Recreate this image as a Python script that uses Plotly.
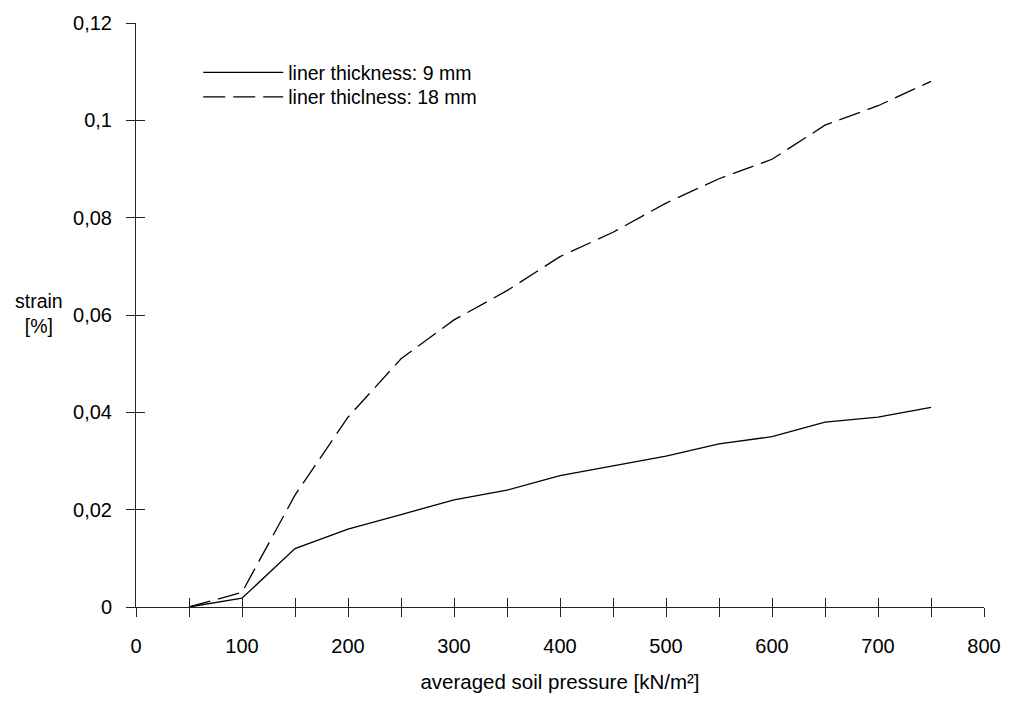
import plotly.graph_objects as go

pressure = [50, 100, 150, 200, 250, 300, 350, 400, 450, 500, 550, 600, 650, 700, 750]
strain_9mm = [0.0, 0.0018, 0.012, 0.016, 0.019, 0.022, 0.024, 0.027, 0.029, 0.031, 0.0335, 0.035, 0.038, 0.039, 0.041]
strain_18mm = [0.0, 0.003, 0.023, 0.039, 0.051, 0.059, 0.065, 0.072, 0.077, 0.083, 0.088, 0.092, 0.099, 0.103, 0.108]
name_9 = "liner thickness: 9 mm"
name_18 = "liner thiclness: 18 mm"

FONT = "Liberation Sans, Arial, sans-serif"
AX = "#222222"

fig = go.Figure()
fig.add_trace(go.Scatter(x=pressure, y=strain_9mm, mode="lines", name=name_9,
                         line=dict(color="black", width=1.3), legend="legend"))
fig.add_trace(go.Scatter(x=pressure, y=strain_18mm, mode="lines", name=name_18,
                         line=dict(color="black", width=1.3, dash="22px,8px"),
                         legend="legend2"))

leg_common = dict(xanchor="left", yanchor="middle", bgcolor="rgba(0,0,0,0)",
                  font=dict(size=19.5), itemwidth=80, borderwidth=0)

fig.update_layout(
    width=1013, height=701,
    margin=dict(l=136, r=19, t=19, b=87),
    paper_bgcolor="white", plot_bgcolor="white",
    separators=",.",
    font=dict(family=FONT, size=20, color="black"),
    showlegend=True,
    legend=dict(x=0.0734, y=0.915, **leg_common),
    legend2=dict(x=0.0734, y=0.873, **leg_common),
    xaxis=dict(range=[0, 800], dtick=100, ticks="outside", ticklen=9, tickwidth=1,
               tickcolor=AX, showline=True, linecolor=AX, linewidth=1,
               showgrid=False, zeroline=False,
               minor=dict(dtick=50, ticks="outside", ticklen=9, tickcolor=AX, showgrid=False),
               title=dict(text="averaged soil pressure [kN/m²]", standoff=18,
                          font=dict(size=20.5)),
               ticklabelstandoff=12),
    xaxis2=dict(range=[0, 800], dtick=50, ticks="inside", ticklen=9, tickcolor=AX,
                overlaying="x", anchor="y", side="bottom", showticklabels=False,
                showgrid=False, zeroline=False, showline=False),
    yaxis=dict(range=[0, 0.12], dtick=0.02, ticks="outside", ticklen=9, tickwidth=1,
               tickcolor=AX, showline=True, linecolor=AX, linewidth=1,
               showgrid=False, zeroline=False, ticklabelstandoff=10),
    yaxis2=dict(range=[0, 0.12], dtick=0.02, ticks="inside", ticklen=9, tickcolor=AX,
                overlaying="y", anchor="x", side="left", showticklabels=False,
                showgrid=False, zeroline=False, showline=False),
)

fig.add_annotation(text="strain<br>[%]", xref="paper", yref="paper",
                   x=-0.114, y=0.503, xanchor="center", yanchor="middle",
                   showarrow=False, font=dict(size=19.5), align="center")

# invisible trace to activate overlay axes
fig.add_trace(go.Scatter(x=[0], y=[0], xaxis="x2", yaxis="y2", mode="markers",
                         marker=dict(opacity=0), showlegend=False, hoverinfo="skip"))

fig.write_html("out.html", config={"displayModeBar": False},
               post_script="document.body.style.margin='0';")
